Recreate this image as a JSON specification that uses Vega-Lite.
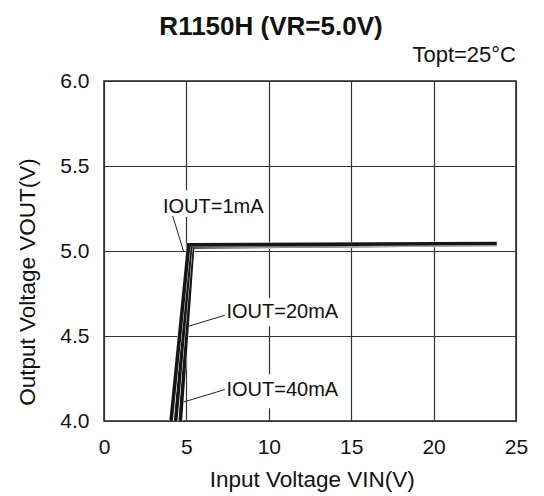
{
  "$schema": "https://vega.github.io/schema/vega-lite/v6.json",
  "autosize": {"type": "none"},
  "width": 412,
  "height": 340,
  "padding": {"left": 104, "top": 81, "right": 28, "bottom": 75},
  "background": "white",
  "title": {"text": "R1150H (VR=5.0V)", "font": "Liberation Sans", "fontSize": 26, "fontWeight": "bold", "color": "#111", "anchor": "middle", "dx": -39, "dy": 26, "offset": 9, "baseline": "alphabetic"},
  "config": {
    "view": {"stroke": "#222", "strokeWidth": 1.5},
    "font": "Liberation Sans"
  },
  "datasets": {
    "curves": [
      {"s": "40mA", "x": 4.63, "y": 4.0},
      {"s": "40mA", "x": 5.38, "y": 5.024},
      {"s": "40mA", "x": 23.83, "y": 5.038},
      {"s": "20mA", "x": 4.35, "y": 4.0},
      {"s": "20mA", "x": 5.26, "y": 5.03},
      {"s": "20mA", "x": 23.83, "y": 5.041},
      {"s": "1mA", "x": 4.07, "y": 4.0},
      {"s": "1mA", "x": 5.14, "y": 5.036},
      {"s": "1mA", "x": 23.83, "y": 5.044}
    ],
    "labels": [
      {"label": "IOUT=1mA", "x": 3.58, "y": 5.223, "x2": 9.85, "bx": 3.39, "y2": 5.2, "by": 5.358},
      {"label": "IOUT=20mA", "x": 7.43, "y": 4.605, "x2": 14.6, "bx": 7.26, "y2": 4.558, "by": 4.722},
      {"label": "IOUT=40mA", "x": 7.43, "y": 4.145, "x2": 14.6, "bx": 7.26, "y2": 4.075, "by": 4.275}
    ],
    "leaders": [
      {"label": "IOUT=1mA", "x": 4.17, "y": 5.205},
      {"label": "IOUT=1mA", "x": 4.84, "y": 4.995},
      {"label": "IOUT=20mA", "x": 7.33, "y": 4.622},
      {"label": "IOUT=20mA", "x": 5.16, "y": 4.558},
      {"label": "IOUT=40mA", "x": 7.33, "y": 4.185},
      {"label": "IOUT=40mA", "x": 4.84, "y": 4.112}
    ],
    "notes": [
      {"t": "Topt=25°C", "x": 25, "y": 6}
    ]
  },
  "encoding": {
    "x": {
      "field": "x", "type": "quantitative",
      "scale": {"domain": [0, 25], "nice": false, "zero": false},
      "axis": {
        "values": [0, 5, 10, 15, 20, 25],
        "title": "Input Voltage VIN(V)",
        "titleFont": "Liberation Sans", "titleFontSize": 22.5, "titleFontWeight": "normal", "titleColor": "#111",
        "titleX": 207.7, "titleY": 65, "titleBaseline": "alphabetic", "titleAlign": "center",
        "labelFont": "Liberation Sans", "labelFontSize": 21, "labelColor": "#111", "labelPadding": 15,
        "labelFlush": false, "labelOverlap": false,
        "ticks": false, "tickSize": 0, "domain": false,
        "grid": true, "gridColor": "#333", "gridWidth": 1.2
      }
    },
    "y": {
      "field": "y", "type": "quantitative",
      "scale": {"domain": [4, 6], "nice": false, "zero": false},
      "axis": {
        "values": [4, 4.5, 5, 5.5, 6], "format": ".1f",
        "title": "Output Voltage VOUT(V)",
        "titleFont": "Liberation Sans", "titleFontSize": 22.5, "titleFontWeight": "normal", "titleColor": "#111",
        "titleAngle": -90, "titleX": -70, "titleY": 200.5, "titleBaseline": "alphabetic", "titleAlign": "center",
        "labelFont": "Liberation Sans", "labelFontSize": 21, "labelColor": "#111", "labelPadding": 15,
        "labelFlush": false, "labelOverlap": false,
        "ticks": false, "tickSize": 0, "domain": false,
        "grid": true, "gridColor": "#333", "gridWidth": 1.2
      }
    }
  },
  "layer": [
    {
      "data": {"name": "labels"},
      "mark": {"type": "rect", "fill": "white", "stroke": null},
      "encoding": {
        "x": {"field": "bx", "type": "quantitative"},
        "x2": {"field": "x2"},
        "y": {"field": "by", "type": "quantitative"},
        "y2": {"field": "y2"}
      }
    },
    {
      "data": {"name": "curves"},
      "transform": [{"filter": "datum.s === '40mA'"}],
      "mark": {"type": "line", "color": "white", "strokeWidth": 4.4, "strokeJoin": "miter"},
      "encoding": {}
    },
    {
      "data": {"name": "curves"},
      "transform": [{"filter": "datum.s === '40mA'"}],
      "mark": {"type": "line", "color": "#161616", "strokeWidth": 3.6, "strokeJoin": "miter"},
      "encoding": {}
    },
    {
      "data": {"name": "curves"},
      "transform": [{"filter": "datum.s === '20mA'"}],
      "mark": {"type": "line", "color": "white", "strokeWidth": 4.4, "strokeJoin": "miter"},
      "encoding": {}
    },
    {
      "data": {"name": "curves"},
      "transform": [{"filter": "datum.s === '20mA'"}],
      "mark": {"type": "line", "color": "#161616", "strokeWidth": 3.6, "strokeJoin": "miter"},
      "encoding": {}
    },
    {
      "data": {"name": "curves"},
      "transform": [{"filter": "datum.s === '1mA'"}],
      "mark": {"type": "line", "color": "white", "strokeWidth": 4.4, "strokeJoin": "miter"},
      "encoding": {}
    },
    {
      "data": {"name": "curves"},
      "transform": [{"filter": "datum.s === '1mA'"}],
      "mark": {"type": "line", "color": "#161616", "strokeWidth": 3.6, "strokeJoin": "miter"},
      "encoding": {}
    },
    {
      "data": {"name": "leaders"},
      "mark": {"type": "line", "color": "#222", "strokeWidth": 1},
      "encoding": {"detail": {"field": "label"}}
    },
    {
      "data": {"name": "labels"},
      "mark": {"type": "text", "align": "left", "baseline": "alphabetic", "fontSize": 20, "font": "Liberation Sans", "color": "#111"},
      "encoding": {"text": {"field": "label"}}
    },
    {
      "data": {"name": "notes"},
      "mark": {"type": "text", "align": "right", "baseline": "alphabetic", "fontSize": 22, "font": "Liberation Sans", "color": "#111", "dy": -19},
      "encoding": {"text": {"field": "t"}}
    }
  ]
}
